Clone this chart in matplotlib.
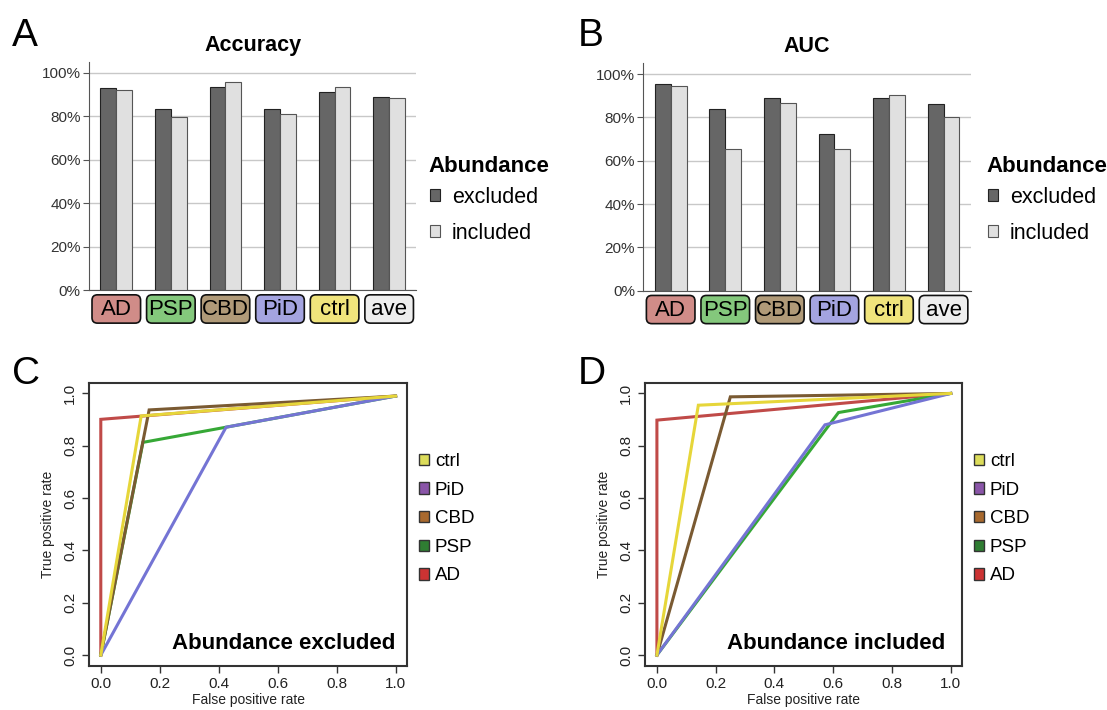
import matplotlib.pyplot as plt
import matplotlib.transforms as mtransforms
from matplotlib.patches import FancyBboxPatch, Patch
import numpy as np

plt.rcParams['font.family'] = ['Liberation Sans', 'DejaVu Sans']

# ---- data ----
groups = ["AD", "PSP", "CBD", "PiD", "ctrl", "ave"]
group_colors = ["#d08c88", "#84c87c", "#b09a78", "#a4a4e0", "#f0e47c", "#eeeeee"]
acc_excluded = [93.1, 83.1, 93.2, 83.1, 91.3, 89.0]
acc_included = [92.0, 79.6, 95.7, 80.8, 93.2, 88.5]
auc_excluded = [95.6, 83.9, 88.8, 72.4, 88.8, 86.2]
auc_included = [94.5, 65.3, 86.7, 65.3, 90.5, 80.4]

# ROC curves, drawn in this order (ctrl on top)
roc_classes = ["AD", "PSP", "CBD", "PiD", "ctrl"]
line_colors = {"AD": "#c04a48", "PSP": "#36a836", "CBD": "#7a5a32",
               "PiD": "#7474d4", "ctrl": "#e6d63a"}
legend_colors = {"AD": "#cc3333", "PSP": "#2f7d32", "CBD": "#a8692e",
                 "PiD": "#8a55a8", "ctrl": "#dcdc5a"}
legend_order = ["ctrl", "PiD", "CBD", "PSP", "AD"]

excl_fpr = {"AD": [0, 0, 1], "PSP": [0, 0.143, 0.425, 1], "CBD": [0, 0.164, 1],
            "PiD": [0, 0.425, 1], "ctrl": [0, 0.137, 1]}
excl_tpr = {"AD": [0, 0.901, 0.99], "PSP": [0, 0.813, 0.871, 0.99], "CBD": [0, 0.937, 0.99],
            "PiD": [0, 0.871, 0.99], "ctrl": [0, 0.914, 0.99]}
incl_fpr = {"AD": [0, 0, 1], "PSP": [0, 0.618, 1], "CBD": [0, 0.25, 1],
            "PiD": [0, 0.572, 1], "ctrl": [0, 0.141, 1]}
incl_tpr = {"AD": [0, 0.898, 1], "PSP": [0, 0.927, 1], "CBD": [0, 0.987, 1],
            "PiD": [0, 0.880, 1], "ctrl": [0, 0.955, 1]}

W, H = 1107, 710
fig = plt.figure(figsize=(W / 100, H / 100), dpi=100)


def bar_panel(rect, excl, incl, title, legend_x):
    ax = fig.add_axes(rect)
    x = np.arange(len(groups))
    w = 0.29
    ax.bar(x - w / 2, excl, w, color="#666666", edgecolor="#222222", linewidth=0.8,
           label="excluded", zorder=3)
    ax.bar(x + w / 2, incl, w, color="#e0e0e0", edgecolor="#555555", linewidth=0.8,
           label="included", zorder=3)
    ax.set_xlim(-0.5, len(groups) - 0.5)
    ax.set_ylim(0, 105)
    ax.set_yticks([0, 20, 40, 60, 80, 100])
    ax.set_yticklabels(["0%", "20%", "40%", "60%", "80%", "100%"])
    ax.yaxis.grid(True, color="#c8c8c8", linewidth=1)
    ax.set_axisbelow(True)
    ax.set_xticks([])
    for s in ["top", "right"]:
        ax.spines[s].set_visible(False)
    ax.spines["left"].set_color("#555555")
    ax.spines["bottom"].set_color("#555555")
    ax.tick_params(axis="y", length=4, color="#555555", labelsize=11, labelcolor="#333333", pad=2)
    ax.set_title(title, fontsize=15.5, fontweight="bold", pad=8)
    trans = mtransforms.blended_transform_factory(ax.transData, ax.transAxes)
    for i, (g, c) in enumerate(zip(groups, group_colors)):
        box = FancyBboxPatch((i - 0.445, -0.145), 0.89, 0.124,
                             boxstyle="round,pad=0,rounding_size=0.1",
                             mutation_aspect=0.24, facecolor=c, edgecolor="#111111",
                             linewidth=1.2, transform=trans, clip_on=False)
        ax.add_patch(box)
        ax.text(i, -0.086, g, transform=trans, ha="center", va="center", fontsize=16)
    # legend: bold heading + two swatches
    fig.text(legend_x, 1 - 167 / H, "Abundance", fontsize=16, fontweight="bold",
             ha="left", va="center")
    ax.legend(loc="upper left", bbox_to_anchor=(legend_x + 2 / W, 1 - 187 / H),
              bbox_transform=fig.transFigure, frameon=False, fontsize=15.5,
              handlelength=0.47, handleheight=0.47, handletextpad=0.55,
              labelspacing=0.68, borderpad=0, borderaxespad=0)
    return ax


def roc_panel(rect, fpr, tpr, label, legend_x):
    ax = fig.add_axes(rect)
    for k in roc_classes:
        ax.plot(fpr[k], tpr[k], color=line_colors[k], linewidth=2.2, solid_joinstyle="miter")
    ax.set_xlim(-0.04, 1.04)
    ax.set_ylim(-0.04, 1.04)
    ticks = [0, 0.2, 0.4, 0.6, 0.8, 1.0]
    ax.set_xticks(ticks)
    ax.set_xticklabels(["%.1f" % t for t in ticks])
    ax.set_yticks(ticks)
    ax.set_yticklabels(["%.1f" % t for t in ticks], rotation=90, va="center")
    for s in ax.spines.values():
        s.set_linewidth(1.5)
        s.set_color("#333333")
    ax.tick_params(length=5, width=1, color="#333333", labelsize=11, labelcolor="#222222")
    ax.set_xlabel("False positive rate", fontsize=10, color="#222222", labelpad=1)
    ax.set_ylabel("True positive rate", fontsize=10, color="#222222", labelpad=6)
    ax.text(0.24, 0.045, label, fontsize=16, fontweight="bold", ha="left", va="center")
    handles = [Patch(facecolor=legend_colors[k], edgecolor="#333333", linewidth=1, label=k)
               for k in legend_order]
    ax.legend(handles=handles, loc="upper left", bbox_to_anchor=(legend_x, 1 - 453 / H),
              bbox_transform=fig.transFigure, frameon=False, fontsize=13.5,
              handlelength=0.55, handleheight=0.55, handletextpad=0.3,
              labelspacing=0.62, borderpad=0, borderaxespad=0)
    return ax


bar_panel([0.0804, 0.5915, 0.2958, 0.3215], acc_excluded, acc_included, "Accuracy", 428 / W)
bar_panel([0.5812, 0.5906, 0.2958, 0.3203], auc_excluded, auc_included, "AUC", 986 / W)
roc_panel([0.0804, 0.0626, 0.2876, 0.398], excl_fpr, excl_tpr, "Abundance excluded", 419 / W)
roc_panel([0.5828, 0.0626, 0.2866, 0.398], incl_fpr, incl_tpr, "Abundance included", 974 / W)

for letter, px, py in [("A", 12, 46), ("B", 578, 46), ("C", 12, 384), ("D", 578, 384)]:
    fig.text(px / W, 1 - py / H, letter, fontsize=28, va="baseline", ha="left")

fig.savefig("out.png", dpi=100)
